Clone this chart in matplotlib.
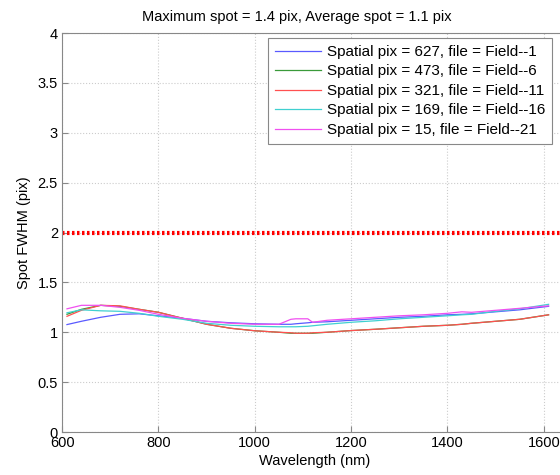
import matplotlib
matplotlib.use("Agg")
import matplotlib.pyplot as plt

plt.rcParams['font.family'] = ['Liberation Sans', 'DejaVu Sans']

wavelength = [610, 640, 680, 720, 760, 800, 850, 900, 950, 1000, 1050, 1075, 1085,
              1110, 1120, 1150, 1200, 1250, 1300, 1350, 1400, 1430, 1450, 1500, 1550, 1610]

field1 = [1.077, 1.11, 1.15, 1.18, 1.185, 1.165, 1.14, 1.11, 1.095, 1.085, 1.08, 1.08, 1.085,
          1.095, 1.10, 1.105, 1.12, 1.135, 1.15, 1.16, 1.175, 1.18, 1.185, 1.205, 1.225, 1.26]
field6 = [1.18, 1.23, 1.27, 1.26, 1.23, 1.20, 1.14, 1.08, 1.04, 1.015, 1.00, 0.99, 0.99,
          0.99, 0.99, 1.00, 1.017, 1.03, 1.045, 1.06, 1.07, 1.08, 1.09, 1.11, 1.13, 1.175]
field11 = [1.16, 1.22, 1.27, 1.265, 1.23, 1.20, 1.14, 1.08, 1.04, 1.015, 1.00, 0.995, 0.99,
           0.99, 0.995, 1.00, 1.017, 1.03, 1.045, 1.06, 1.07, 1.08, 1.09, 1.11, 1.13, 1.175]
field16 = [1.195, 1.225, 1.215, 1.21, 1.19, 1.16, 1.13, 1.09, 1.07, 1.06, 1.055, 1.055, 1.055,
           1.06, 1.065, 1.08, 1.10, 1.115, 1.135, 1.15, 1.165, 1.175, 1.18, 1.21, 1.235, 1.28]
field21 = [1.235, 1.27, 1.27, 1.25, 1.22, 1.18, 1.14, 1.11, 1.09, 1.08, 1.08, 1.13, 1.135,
           1.135, 1.10, 1.12, 1.135, 1.15, 1.165, 1.175, 1.19, 1.205, 1.20, 1.22, 1.24, 1.265]

series = [field1, field6, field11, field16, field21]
labels = ["Spatial pix = 627, file = Field--1",
          "Spatial pix = 473, file = Field--6",
          "Spatial pix = 321, file = Field--11",
          "Spatial pix = 169, file = Field--16",
          "Spatial pix = 15, file = Field--21"]
colors = ['#5a5aff', '#3a9a3a', '#ff5050', '#40d0d0', '#f050f0']

limit_value = 2.0
x_ticks = [600, 800, 1000, 1200, 1400, 1600]
y_ticks = [0, 0.5, 1, 1.5, 2, 2.5, 3, 3.5, 4]
y_ticklabels = ['0', '0.5', '1', '1.5', '2', '2.5', '3', '3.5', '4']

fig = plt.figure(figsize=(5.6, 4.75), dpi=100)
ax = fig.add_axes([0.111, 0.0905, 0.903, 0.84])

for y, lab, c in zip(series, labels, colors):
    ax.plot(wavelength, y, color=c, lw=0.9, label=lab)

ax.axhline(limit_value, color='red', lw=3, ls=(0, (0.6, 0.6)))

ax.set_xlim(600, 1650)
ax.set_ylim(0, 4)
ax.set_xticks(x_ticks)
ax.set_yticks(y_ticks)
ax.set_yticklabels(y_ticklabels)
ax.tick_params(direction='in', labelsize=10.5, length=4, color='#888888', pad=3)
ax.grid(True, ls=':', color='#cccccc', lw=0.8)
for s in ax.spines.values():
    s.set_color('#888888')
ax.spines['right'].set_visible(False)

ax.set_xlabel('Wavelength (nm)', fontsize=10.5, labelpad=3)
ax.set_ylabel('Spot FWHM (pix)', fontsize=10.5, labelpad=5)
ax.set_title('Maximum spot = 1.4 pix, Average spot = 1.1 pix', fontsize=10.5, pad=9,
             x=0.465)

leg = ax.legend(loc='upper left', bbox_to_anchor=((268 - 62) / 505.6, 3.95 / 4), fontsize=11,
                fancybox=False, framealpha=1, edgecolor='#888888',
                handlelength=3.0, borderpad=0.45, labelspacing=0.36, handletextpad=0.4,
                borderaxespad=0.0)
leg.get_frame().set_linewidth(0.8)

fig.savefig('out.png', dpi=100)
